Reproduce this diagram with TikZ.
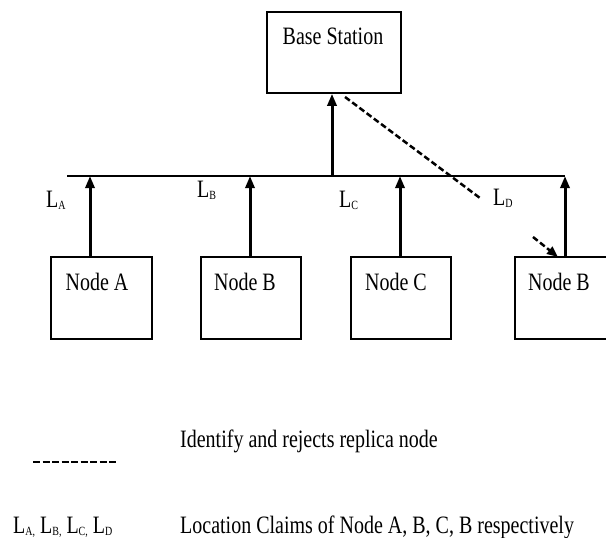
\documentclass[tikz,border=0pt]{standalone}
\usepackage{fontspec}
\setmainfont{Liberation Serif}[FakeStretch=0.8]
\usetikzlibrary{arrows.meta}
\newcommand\subl[1]{\raisebox{-2pt}{\fontsize{12.5}{12.5}\selectfont #1}}
\begin{document}
\begin{tikzpicture}[x=1pt,y=1pt, font=\fontsize{25}{28}\selectfont,
  box/.style={draw, line width=1.5pt, inner sep=0pt},
  txt/.style={inner sep=0pt, anchor=base},
  arr/.style={line width=3pt, -{Triangle[length=12pt,width=9pt]}},
  dsh/.style={line width=2.5pt, dash pattern=on 6pt off 3pt},
  bus/.style={line width=2pt}]
\useasboundingbox (0,0) rectangle (606,-538);
% base station
\node[box, minimum width=134pt, minimum height=81pt] (bs) at (334,-52.5) {};
\node[txt] (bst) at (333,-44) {Base Station};
% sensor nodes
\node[box, minimum width=101pt, minimum height=82pt] (na) at (101.5,-298) {};
\node[box, minimum width=100pt, minimum height=82pt] (nb) at (251,-298) {};
\node[box, minimum width=100pt, minimum height=82pt] (nc) at (401,-298) {};
\node[box, minimum width=101pt, minimum height=82pt] (nd) at (565.5,-298) {};
\node[txt] (nat) at (97,-290) {Node A};
\node[txt] (nbt) at (245,-290) {Node B};
\node[txt] (nct) at (396,-290) {Node C};
\node[txt] (ndt) at (559,-290) {Node B};
% bus
\coordinate (bl) at (67,-176);
\coordinate (br) at (565,-176);
\coordinate (ta) at (90,-176);
\coordinate (tb) at (250,-176);
\coordinate (tc) at (400,-176);
\coordinate (tm) at (332,-176);
\draw[bus] (bl) -- (br);
\draw[arr] (na.north -| ta) -- (ta);
\draw[arr] (nb.north -| tb) -- (tb);
\draw[arr] (nc.north -| tc) -- (tc);
\draw[arr] (nd.north -| br) -- (br);
\draw[arr] (tm) -- (bs.south -| tm);
% replica detection (dashed)
\coordinate (ds) at (345,-97);
\coordinate (d1) at (480,-198);
\coordinate (d2) at (533,-237);
\coordinate (de) at (558,-257);
\draw[dsh] (ds) -- (d1);
\draw[dsh, -{Triangle[length=11pt,width=9pt]}] (d2) -- (de);
% location claim labels
\node[txt, anchor=base west] (la) at (46,-207) {L\subl{A}};
\node[txt, anchor=base west] (lb) at (197,-197) {L\subl{B}};
\node[txt, anchor=base west] (lc) at (339,-207) {L\subl{C}};
\node[txt, anchor=base west] (ld) at (493,-205) {L\subl{D}};
% legend
\coordinate (k1) at (33,-462);
\coordinate (k2) at (118,-462);
\draw[line width=2pt, dash pattern=on 7pt off 2.5pt] (k1) -- (k2);
\node[txt, anchor=base west] (k1t) at (180,-447) {Identify and rejects replica node};
\node[txt, anchor=base west] (k2l) at (13,-533) {L\subl{A,} L\subl{B,} L\subl{C,} L\subl{D}};
\node[txt, anchor=base west] (k2t) at (180,-533) {Location Claims of Node A, B, C, B respectively};
\end{tikzpicture}
\end{document}
